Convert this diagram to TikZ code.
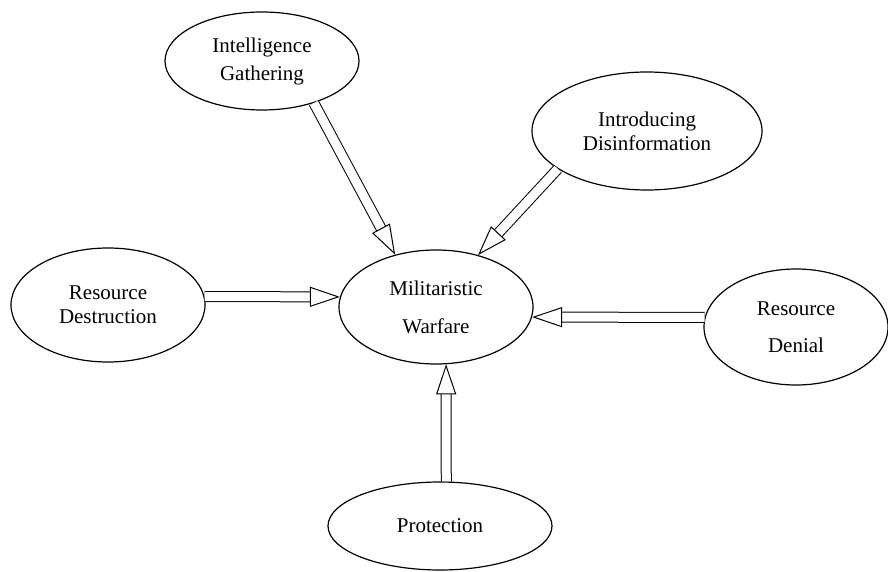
\documentclass[tikz,border=0pt]{standalone}
\usepackage{fontspec}
\setmainfont{Liberation Serif}
\usetikzlibrary{shapes.geometric,arrows.meta}
\begin{document}
\begin{tikzpicture}[x=0.5pt, y=-0.5pt,
            blob/.style = {draw, ellipse, line width=0.6pt, inner sep=0pt, align=center,
                           font=\fontsize{10.5}{12}\selectfont},
            hollow/.style = {draw, double, line width=0.5pt, double distance=4.5pt,
                             -{Triangle[open, length=15pt, width=10pt]}}]
            %\draw[lightgray] (0, 0) grid[step=50] (888, 572);
            \useasboundingbox (0, 0) rectangle (888, 572);
            \node[blob, minimum width=97pt, minimum height=49pt] (intel) at (262, 61) {Intelligence\\[2pt]Gathering};
            \node[blob, minimum width=115pt, minimum height=59pt] (disinfo) at (647, 131) {Introducing\\Disinformation};
            \node[blob, minimum width=97pt, minimum height=57pt] (destr) at (108, 305) {Resource\\Destruction};
            \node[blob, minimum width=97pt, minimum height=57pt] (mil) at (436, 307) {Militaristic\\[7pt]Warfare};
            \node[blob, minimum width=92pt, minimum height=58pt] (denial) at (796, 327) {Resource\\[6.5pt]Denial};
            \node[blob, minimum width=112pt, minimum height=44pt] (prot) at (440, 526) {Protection};

            \draw[hollow] (intel.-39) -- (mil.128);
            \draw[hollow] (disinfo.203) -- (mil.51);
            \draw[hollow] (destr.5) -- (mil.174);
            \draw[hollow] (denial.174) -- (mil.-6);
            \draw[hollow] (prot.82) -- (mil.-80);
        \end{tikzpicture}
\end{document}
